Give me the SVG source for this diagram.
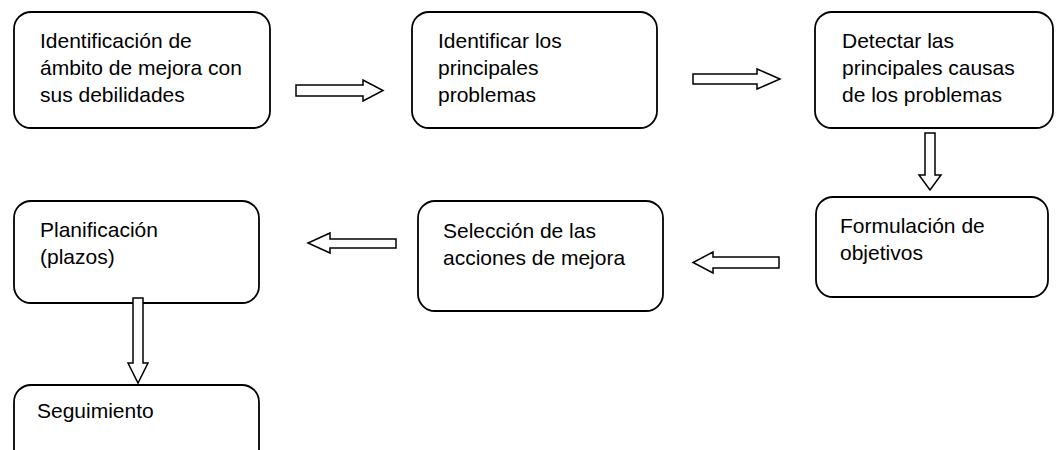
<svg xmlns="http://www.w3.org/2000/svg" width="1058" height="450" viewBox="0 0 1058 450">
<style>
.box{fill:#fff;stroke:#000;stroke-width:1.8}
.arr{fill:#fff;stroke:#000;stroke-width:1.5;stroke-linejoin:miter}
.t{font-family:"Liberation Sans",Arial,sans-serif;font-size:21px;fill:#000}
</style>
<rect width="1058" height="450" fill="#fff"/>
<g id="n1">
<rect class="box" x="14" y="12" width="256" height="116" rx="17"/>
<text class="t" x="40" y="48">Identificación de</text>
<text class="t" x="40" y="75">ámbito de mejora con</text>
<text class="t" x="40" y="102">sus debilidades</text>
</g>
<g id="n2">
<rect class="box" x="412" y="12" width="245" height="116" rx="17"/>
<text class="t" x="438" y="48">Identificar los</text>
<text class="t" x="438" y="75">principales</text>
<text class="t" x="438" y="102">problemas</text>
</g>
<g id="n3">
<rect class="box" x="815" y="12" width="238" height="116" rx="17"/>
<text class="t" x="842" y="48">Detectar las</text>
<text class="t" x="842" y="75">principales causas</text>
<text class="t" x="842" y="102">de los problemas</text>
</g>
<g id="n4">
<rect class="box" x="816" y="197" width="232" height="100" rx="17"/>
<text class="t" x="840" y="233">Formulación de</text>
<text class="t" x="840" y="260">objetivos</text>
</g>
<g id="n5">
<rect class="box" x="418" y="201" width="245" height="110" rx="17"/>
<text class="t" x="443" y="238">Selección de las</text>
<text class="t" x="443" y="265">acciones de mejora</text>
</g>
<g id="n6">
<rect class="box" x="14" y="201" width="245" height="102" rx="17"/>
<text class="t" x="40" y="237">Planificación</text>
<text class="t" x="40" y="264">(plazos)</text>
</g>
<g id="n7">
<rect class="box" x="14" y="385" width="245" height="90" rx="17"/>
<text class="t" x="37" y="418">Seguimiento</text>
</g>
<g id="connectors">
<polygon class="arr" points="296,85 363,85 363,80 383,90.5 363,101 363,96 296,96"/>
<polygon class="arr" points="693,74 757,74 757,69 780,79 757,89 757,84 693,84"/>
<polygon class="arr" points="925,133 935,133 935,175 941,175 930,190 919,175 925,175"/>
<polygon class="arr" points="779,257 713,257 713,252 693,262.5 713,273 713,268 779,268"/>
<polygon class="arr" points="396,239 330,239 330,233 308,243 330,253 330,248 396,248"/>
<polygon class="arr" points="133,298 143,298 143,363 148,363 138,383 128,363 133,363"/>
</g>
</svg>
